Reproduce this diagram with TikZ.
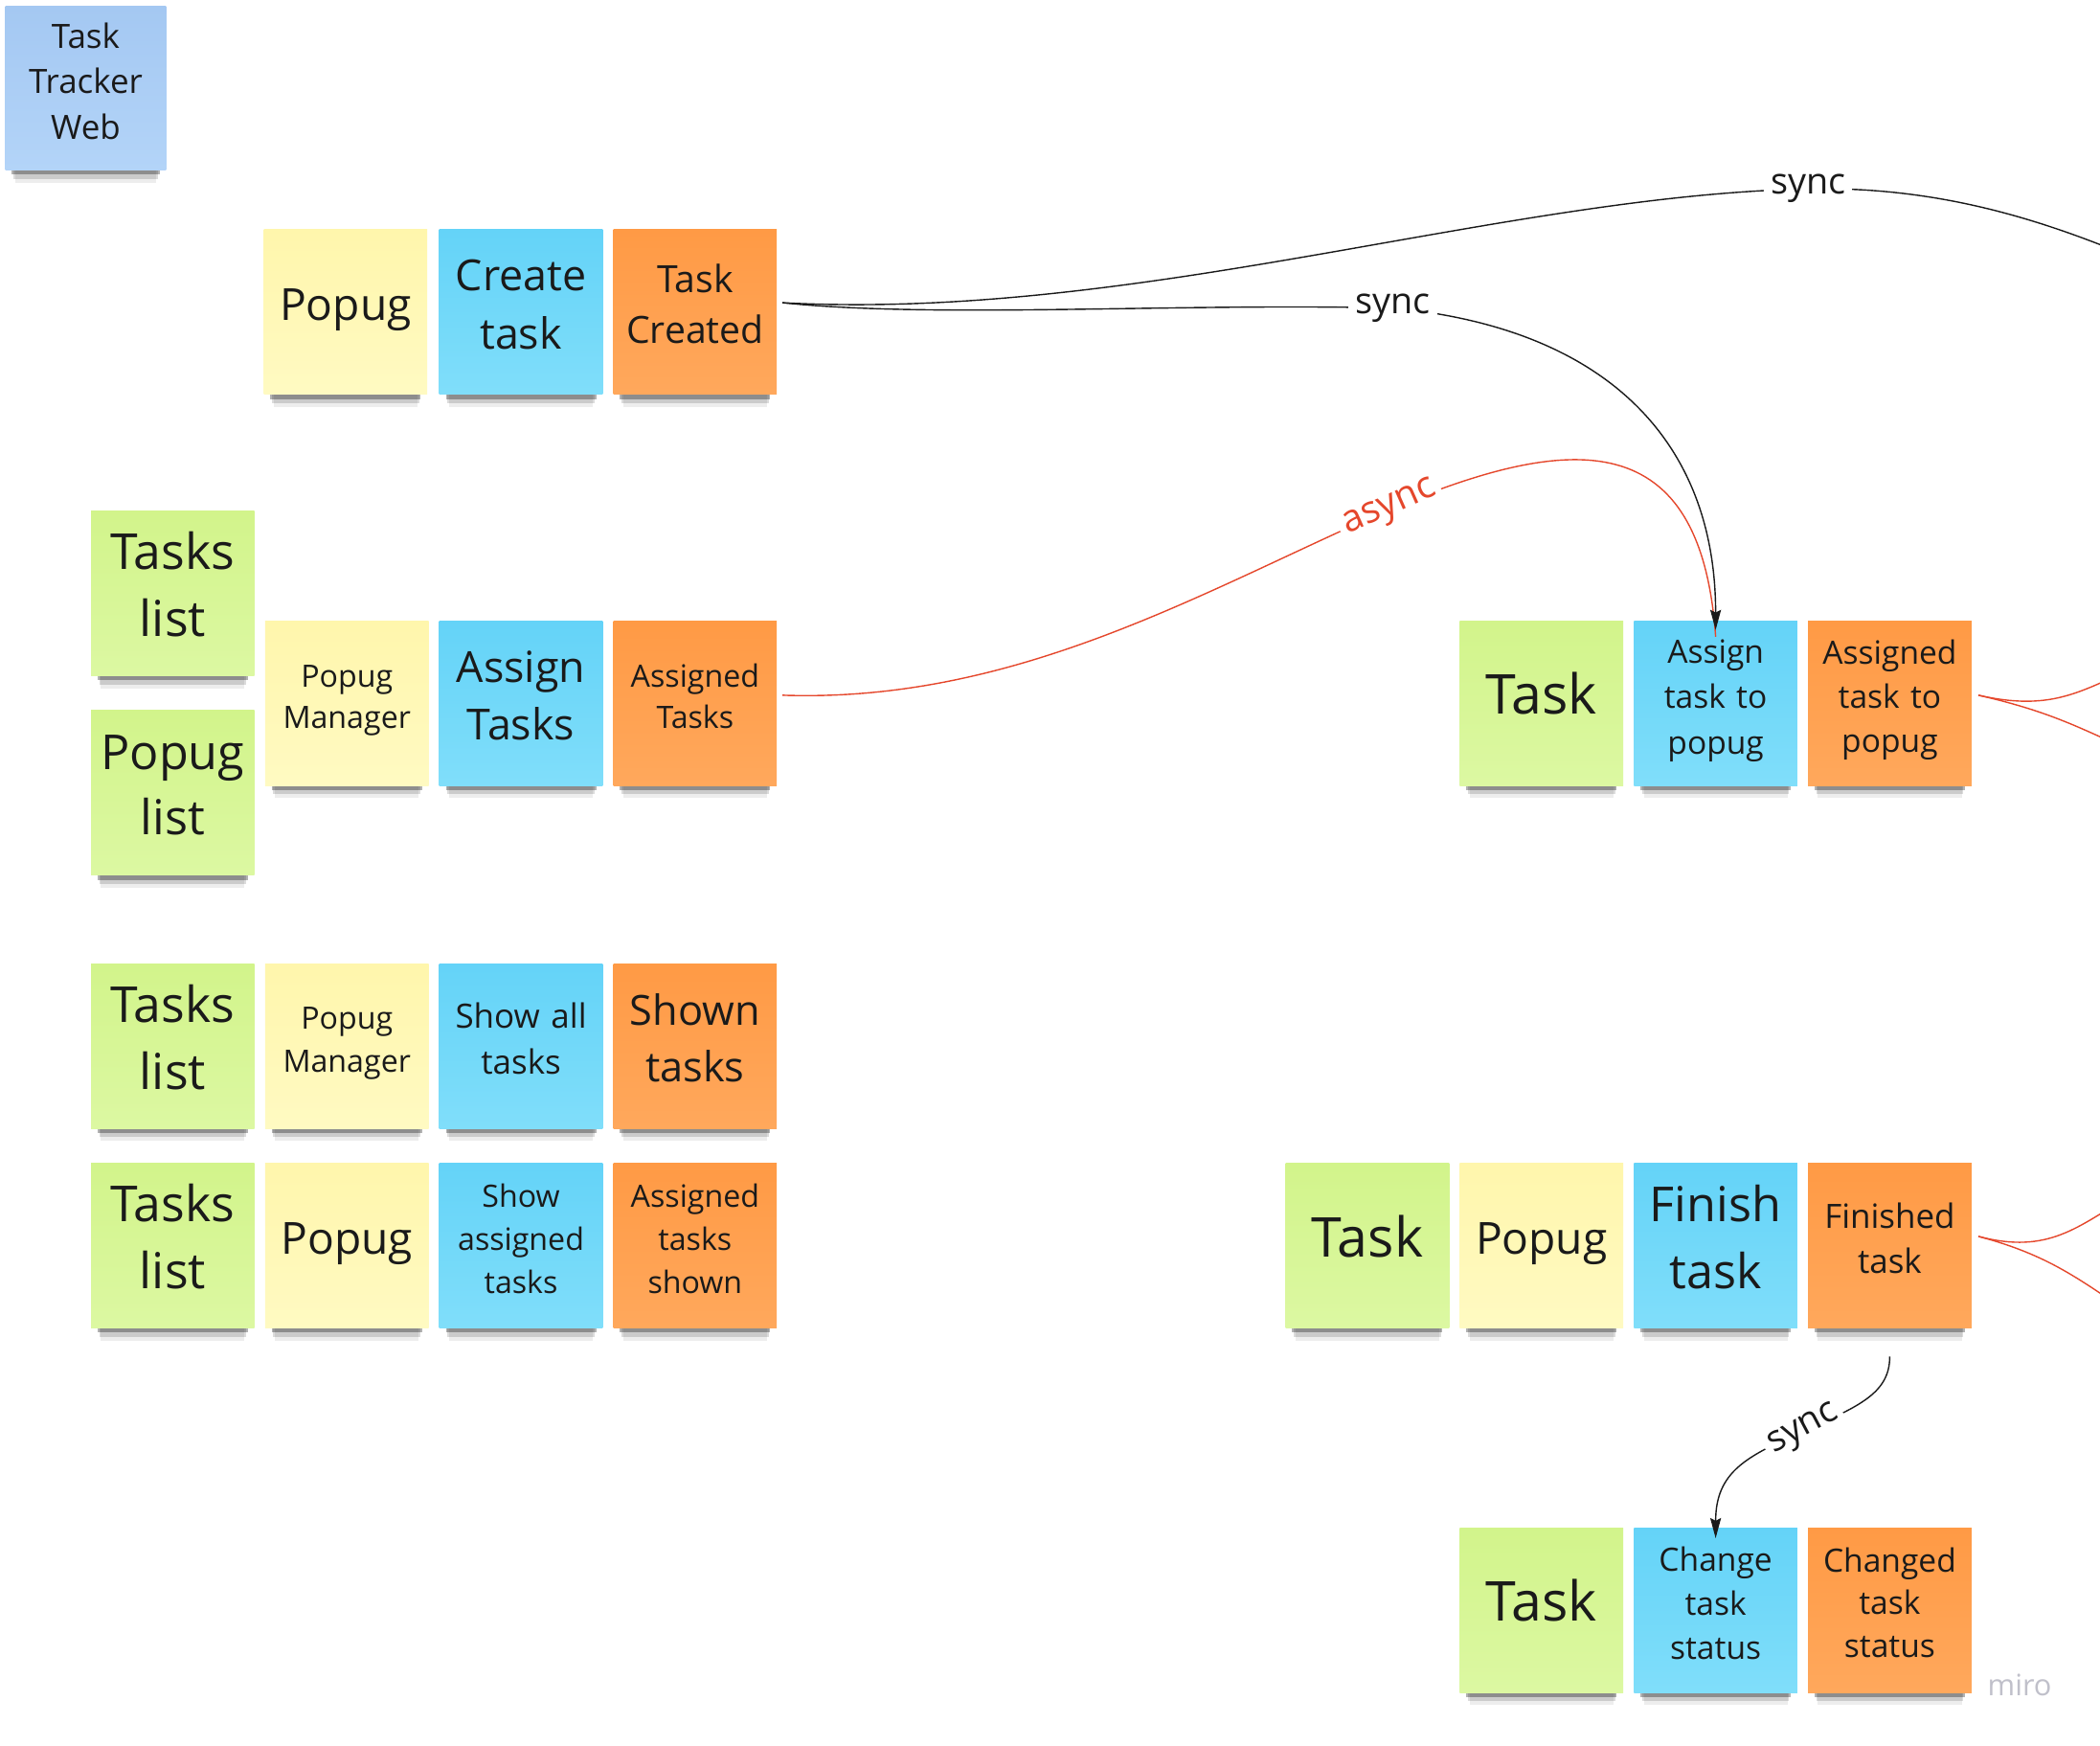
\documentclass[tikz,border=0pt]{standalone}
\usepackage{fontspec}
\setmainfont{Open Sans}
\usetikzlibrary{shadows,arrows.meta}
\definecolor{ink}{HTML}{1A1A1A}
\definecolor{grn}{HTML}{D2F48B}
\definecolor{grnlt}{HTML}{DCF8A2}
\definecolor{ylw}{HTML}{FFF6AC}
\definecolor{ylwlt}{HTML}{FFFAC2}
\definecolor{cyn}{HTML}{64D3F8}
\definecolor{cynlt}{HTML}{80DEFA}
\definecolor{orn}{HTML}{FF9A45}
\definecolor{ornlt}{HTML}{FFA85C}
\definecolor{blu}{HTML}{A4C8F2}
\definecolor{blult}{HTML}{B3D4F8}
\definecolor{asyncred}{HTML}{E5472C}
\definecolor{wmark}{HTML}{C0C0CA}
\begin{document}
\begin{tikzpicture}[x=1pt,y=-1pt,
  note/.style={minimum width=122pt,minimum height=123pt,inner sep=0pt,
    text width=118pt,align=center,text=ink,
    execute at begin node={\strut},execute at end node={\strut\endgraf\vspace*{6pt}},
    drop shadow={shadow scale=.92,shadow xshift=0pt,shadow yshift=-9pt,opacity=.3,fill=black},
    drop shadow={shadow scale=.9,shadow xshift=0pt,shadow yshift=-14pt,opacity=.14,fill=black},
    drop shadow={shadow scale=.88,shadow xshift=0pt,shadow yshift=-19pt,opacity=.07,fill=black}},
  grnnote/.style={note,top color=grn,bottom color=grnlt},
  ylwnote/.style={note,top color=ylw,bottom color=ylwlt},
  cynnote/.style={note,top color=cyn,bottom color=cynlt},
  ornnote/.style={note,top color=orn,bottom color=ornlt},
  blunote/.style={note,top color=blu,bottom color=blult},
  synclbl/.style={fill=white,inner sep=5pt,text=ink,font=\fontsize{27}{30}\selectfont},
  syncline/.style={draw=ink,line width=1pt},
  asyncline/.style={draw=asyncred,line width=1pt},
  tip/.style={-{Stealth[length=15pt,width=8pt,inset=2pt]}}]
\clip (0,0) rectangle (1568,1303.4);
\fill[white] (0,0) rectangle (1568,1303.4);
% board title
\node[blunote,minimum width=120pt,minimum height=122pt,font=\fontsize{25}{34}\selectfont]
  (web) at (64,66) {Task\\Tracker\\Web};
% create task
\node[ylwnote,font=\fontsize{33}{45}\selectfont] (popug1) at (258,233) {Popug};
\node[cynnote,font=\fontsize{32}{44}\selectfont] (create) at (389,233) {Create\\task};
\node[ornnote,font=\fontsize{28}{38}\selectfont] (created) at (519,233) {Task\\Created};
% assign tasks
\node[grnnote,font=\fontsize{37}{50}\selectfont] (tlist1) at (129,443) {Tasks\\list};
\node[grnnote,font=\fontsize{36}{49}\selectfont] (plist) at (129,592) {Popug\\list};
\node[ylwnote,font=\fontsize{23}{31}\selectfont] (manager1) at (259,525) {Popug\\Manager};
\node[cynnote,font=\fontsize{32}{43}\selectfont] (assign) at (389,525) {Assign\\Tasks};
\node[ornnote,font=\fontsize{23}{31}\selectfont] (assigned) at (519,525) {Assigned\\Tasks};
% show all tasks
\node[grnnote,font=\fontsize{37}{50}\selectfont] (tlist2) at (129,781) {Tasks\\list};
\node[ylwnote,font=\fontsize{23}{32}\selectfont] (manager2) at (259,781) {Popug\\Manager};
\node[cynnote,font=\fontsize{25}{34}\selectfont] (showall) at (389,781) {Show all\\tasks};
\node[ornnote,font=\fontsize{31}{42}\selectfont] (shown) at (519,781) {Shown\\tasks};
% show assigned tasks
\node[grnnote,font=\fontsize{37}{50}\selectfont] (tlist3) at (129,930) {Tasks\\list};
\node[ylwnote,font=\fontsize{33}{45}\selectfont] (popug2) at (259,930) {Popug};
\node[cynnote,font=\fontsize{23}{32}\selectfont] (showasg) at (389,930) {Show\\assigned\\tasks};
\node[ornnote,font=\fontsize{23}{32}\selectfont] (asgshown) at (519,930) {Assigned\\tasks\\shown};
% assign task to popug
\node[grnnote,font=\fontsize{41}{56}\selectfont] (task1) at (1151,525) {Task};
\node[cynnote,font=\fontsize{24}{34}\selectfont] (asgtask) at (1281,525) {Assign\\task to\\popug};
\node[ornnote,font=\fontsize{24}{33}\selectfont] (asgdtask) at (1411,525) {Assigned\\task to\\popug};
% finish task
\node[grnnote,font=\fontsize{41}{56}\selectfont] (task2) at (1021,930) {Task};
\node[ylwnote,font=\fontsize{33}{45}\selectfont] (popug3) at (1151,930) {Popug};
\node[cynnote,font=\fontsize{36}{50}\selectfont] (finish) at (1281,930) {Finish\\task};
\node[ornnote,font=\fontsize{25}{34}\selectfont] (finished) at (1411,930) {Finished\\task};
% change status
\node[grnnote,font=\fontsize{41}{56}\selectfont] (task3) at (1151,1202) {Task};
\node[cynnote,font=\fontsize{24}{33}\selectfont] (change) at (1281,1202) {Change\\task\\status};
\node[ornnote,font=\fontsize{24}{32}\selectfont] (changed) at (1411,1202) {Changed\\task\\status};
% connectors
\coordinate (offtop) at (1610,200);
\coordinate (fork1up) at (1590,500);
\coordinate (fork1dn) at (1590,560);
\coordinate (fork2up) at (1590,893);
\coordinate (fork2dn) at (1590,980);
\draw[syncline] ([xshift=4pt,yshift=7pt]created.east) .. controls (850,240) and (1120,146) .. (1350,141)
  node[synclbl] {sync} .. controls (1450,139) and (1530,165) .. (offtop);
\draw[asyncline] ([xshift=4pt,yshift=6pt]assigned.east) .. controls (760,525) and (900,440) .. (1038,380)
  node[rotate=24,fill=white,inner sep=4pt,text=asyncred,font=\fontsize{28}{30}\selectfont] {async}
  .. controls (1175,322) and (1270,318) .. ([yshift=-12pt]asgtask.north);
\draw[syncline,tip] ([xshift=4pt,yshift=7pt]created.east) .. controls (700,238) and (880,226) .. (1040,230)
  node[synclbl] {sync} .. controls (1200,245) and (1281,330) .. ([yshift=-7pt]asgtask.north);
\draw[asyncline] ([xshift=5pt,yshift=6pt]asgdtask.east) .. controls (1530,531) and (1552,517) .. (fork1up);
\draw[asyncline] ([xshift=5pt,yshift=6pt]asgdtask.east) .. controls (1530,531) and (1552,543) .. (fork1dn);
\draw[asyncline] ([xshift=5pt,yshift=7pt]finished.east) .. controls (1530,937) and (1552,915) .. (fork2up);
\draw[asyncline] ([xshift=5pt,yshift=7pt]finished.east) .. controls (1530,937) and (1552,955) .. (fork2dn);
\draw[syncline,tip] ([yshift=-21pt]finished.south) .. controls (1411,1040) and (1388,1050) .. (1347,1068)
  node[rotate=28,synclbl,inner sep=4pt] {sync} .. controls (1305,1087) and (1281,1098) .. ([yshift=-8pt]change.north);
% watermark
\node[text=wmark,font=\fontsize{22}{24}\selectfont] (miro) at (1508,1258) {miro};
\end{tikzpicture}
\end{document}
